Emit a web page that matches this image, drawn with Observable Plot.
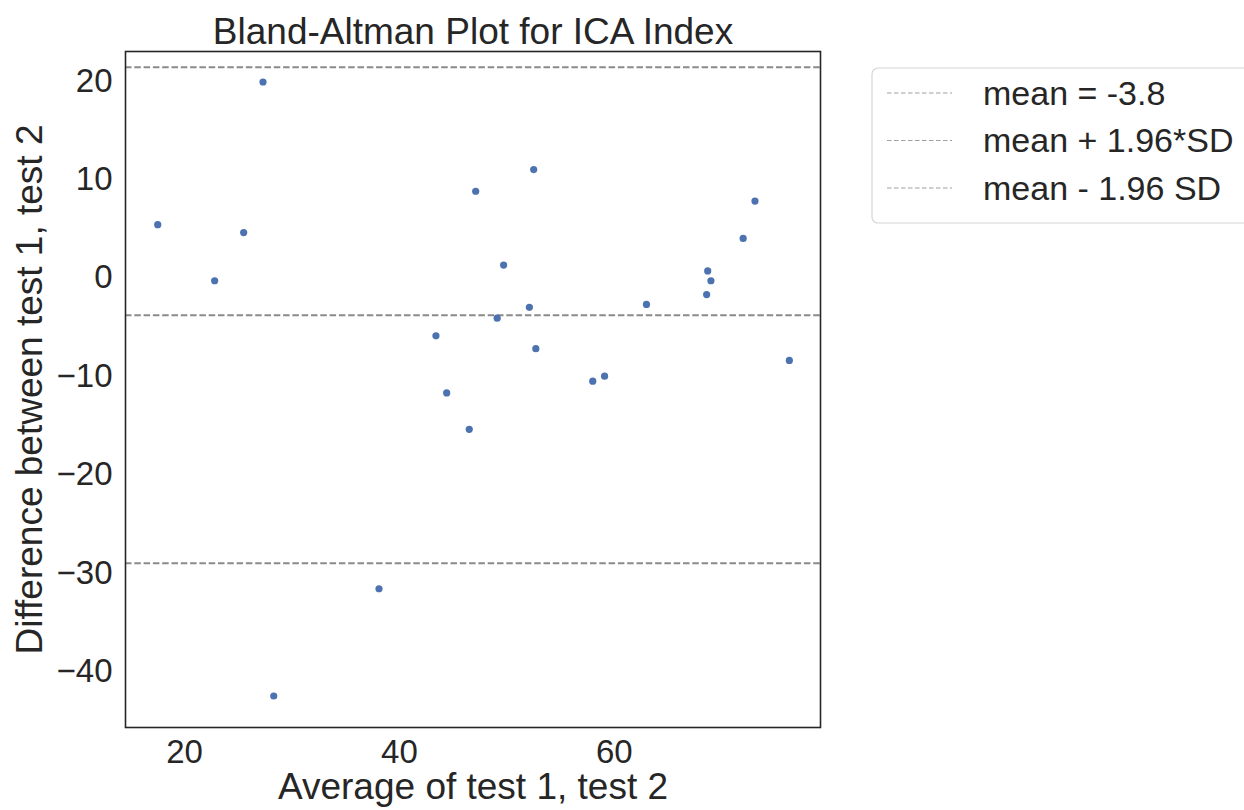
<!DOCTYPE html>
<html><head><meta charset="utf-8">
<script src="https://cdn.jsdelivr.net/npm/d3@7"></script>
<script src="https://cdn.jsdelivr.net/npm/@observablehq/plot@0.6"></script>
<style>body{margin:0;background:#fff;} svg{display:block;}</style>
</head><body><div id="chart"></div>
<script>
// Data
const avg  = [27.3, 17.5, 25.5, 22.8, 47.1, 43.4, 52.5, 73.1, 72.0, 49.7, 68.7, 69.0,
              68.6, 63.0, 52.1, 49.1, 52.7, 76.3, 58.0, 59.1, 44.4, 46.5, 38.1, 28.3];
const diff = [19.9, 5.4, 4.6, -0.3, 8.8, -5.9, 11.0, 7.8, 4.0, 1.3, 0.7, -0.3,
              -1.7, -2.7, -3.0, -4.1, -7.2, -8.4, -10.5, -10.0, -11.7, -15.4, -31.6, -42.5];
const refLines = [-3.8, 21.4, -29.0];
const legendLabels = ["mean = -3.8", "mean + 1.96*SD", "mean - 1.96 SD"];
const xTicks = [20, 40, 60];
const yTicks = [20, 10, 0, -10, -20, -30, -40];
const xDomain = [14.5, 79.2];
const yDomain = [-45.7, 23.0];
const titleText = "Bland-Altman Plot for ICA Index";
const xLabel = "Average of test 1, test 2";
const yLabel = "Difference between test 1, test 2";

const points = avg.map((x, i) => ({x, y: diff[i]}));
const font = "'Liberation Sans', Arial, Helvetica, sans-serif";
const ink = "#262626";

const chart = Plot.plot({
  width: 1244, height: 810,
  marginLeft: 125, marginRight: 424, marginTop: 51, marginBottom: 83,
  style: {fontFamily: font, background: "#fff", color: ink},
  x: {domain: xDomain},
  y: {domain: yDomain},
  marks: [
    Plot.axisX({ticks: xTicks, tickSize: 0, tickPadding: 12, fontSize: 33, label: null}),
    Plot.axisY({ticks: yTicks, tickSize: 0, tickPadding: 13, fontSize: 33, label: null}),
    Plot.ruleY(refLines, {stroke: "#8a8a8a", strokeWidth: 2, strokeDasharray: "6.5,2.8"}),
    Plot.dot(points, {x: "x", y: "y", r: 3.6, fill: "#4c72b0", stroke: "none"}),
    Plot.frame({stroke: ink, strokeWidth: 1.6}),
    Plot.text([titleText], {text: d => d, frameAnchor: "top", dy: -19, fontSize: 37, lineAnchor: "middle", fill: ink}),
    Plot.text([xLabel], {text: d => d, frameAnchor: "bottom", dy: 60, fontSize: 37, lineAnchor: "middle", fill: ink}),
    Plot.text([yLabel], {text: d => d, frameAnchor: "left", textAnchor: "middle", dx: -95, rotate: -90, fontSize: 37, lineAnchor: "middle", fill: ink})
  ]
});
document.getElementById("chart").appendChild(chart);

// Legend
const svg = d3.select(chart);
const lg = svg.append("g").attr("font-family", font).attr("text-anchor", "start");
lg.append("rect").attr("x", 872).attr("y", 68).attr("width", 400).attr("height", 155)
  .attr("rx", 6).attr("fill", "#fff").attr("stroke", "#d6d6d6").attr("stroke-width", 1.2);
legendLabels.forEach((t, i) => {
  const cy = 93 + i * 47.5;
  lg.append("line").attr("x1", 887).attr("x2", 952).attr("y1", cy).attr("y2", cy)
    .attr("stroke", "#a0a0a0").attr("stroke-width", 1.2).attr("stroke-dasharray", "4.5,2.5");
  lg.append("text").attr("x", 983).attr("y", cy).attr("dy", "0.35em")
    .attr("text-anchor", "start").attr("font-size", 34).attr("fill", ink).text(t);
});
</script>
</body></html>
